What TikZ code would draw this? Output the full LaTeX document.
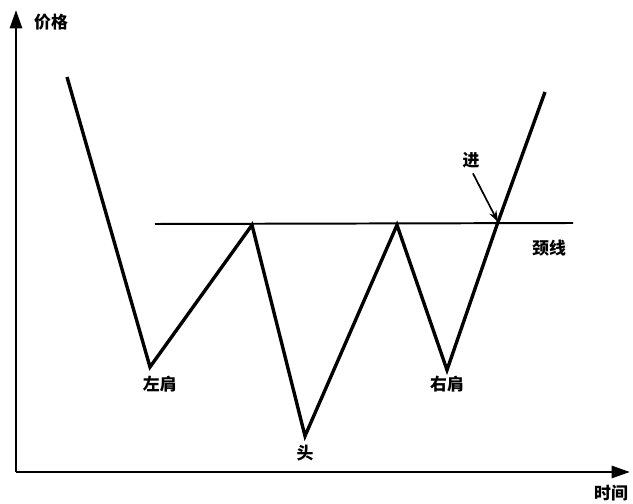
\documentclass[tikz,border=0pt]{standalone}
\usepackage{fontspec}
\newfontfamily\cjk{Noto Sans CJK SC}
\usetikzlibrary{arrows.meta, positioning}
\tikzset{
  axis/.style={-{Triangle[length=13pt,width=8.5pt]}, line width=2pt},
  price/.style={line width=2.4pt, line join=miter, miter limit=4},
  neck/.style={line width=1.4pt},
  lbl/.style={font=\cjk\bfseries\fontsize{12}{14}\selectfont, inner sep=1pt},
  pointer/.style={-{Stealth[length=8pt,width=5.5pt]}, line width=1.2pt}
}

\begin{document}
\begin{tikzpicture}[x=0.025cm, y=-0.025cm]
  \useasboundingbox (0,0) rectangle (633,504);
  % axes
  \coordinate (o) at (16,472);
  \coordinate (ytop) at (16,10);
  \coordinate (xend) at (630,472);
  \draw[axis] (o) -- (ytop);
  \draw[axis] (o) -- (xend);
  \node[lbl] (price) at (51,22) {价格};
  \node[lbl] (time) at (611,493) {时间};
  % price path
  \coordinate (p0) at (67,77);
  \coordinate (ls) at (150,367);
  \coordinate (n1) at (252,225);
  \coordinate (hd) at (305,436);
  \coordinate (n2) at (397,225);
  \coordinate (rs) at (447,370);
  \coordinate (brk) at (498,222);
  \coordinate (p7) at (545,92);
  \draw[price] (p0) -- (ls) -- (n1) -- (hd) -- (n2) -- (rs) -- (brk) -- (p7);
  % neckline
  \coordinate (nl0) at (155,224);
  \coordinate (nl1) at (573,223);
  \draw[neck] (nl0) -- (nl1);
  \node[lbl] (neckl) at (549,248) {颈线};
  % labels
  \node[lbl, below=5pt of ls, xshift=7pt] (lsl) {左肩};
  \node[lbl, below=5pt of hd] (hdl) {头};
  \node[lbl, below=3pt of rs] (rsl) {右肩};
  \node[lbl] (jin) at (471,160) {进};
  \draw[pointer, shorten <=3pt] (jin.south) -- (brk);
\end{tikzpicture}
\end{document}
